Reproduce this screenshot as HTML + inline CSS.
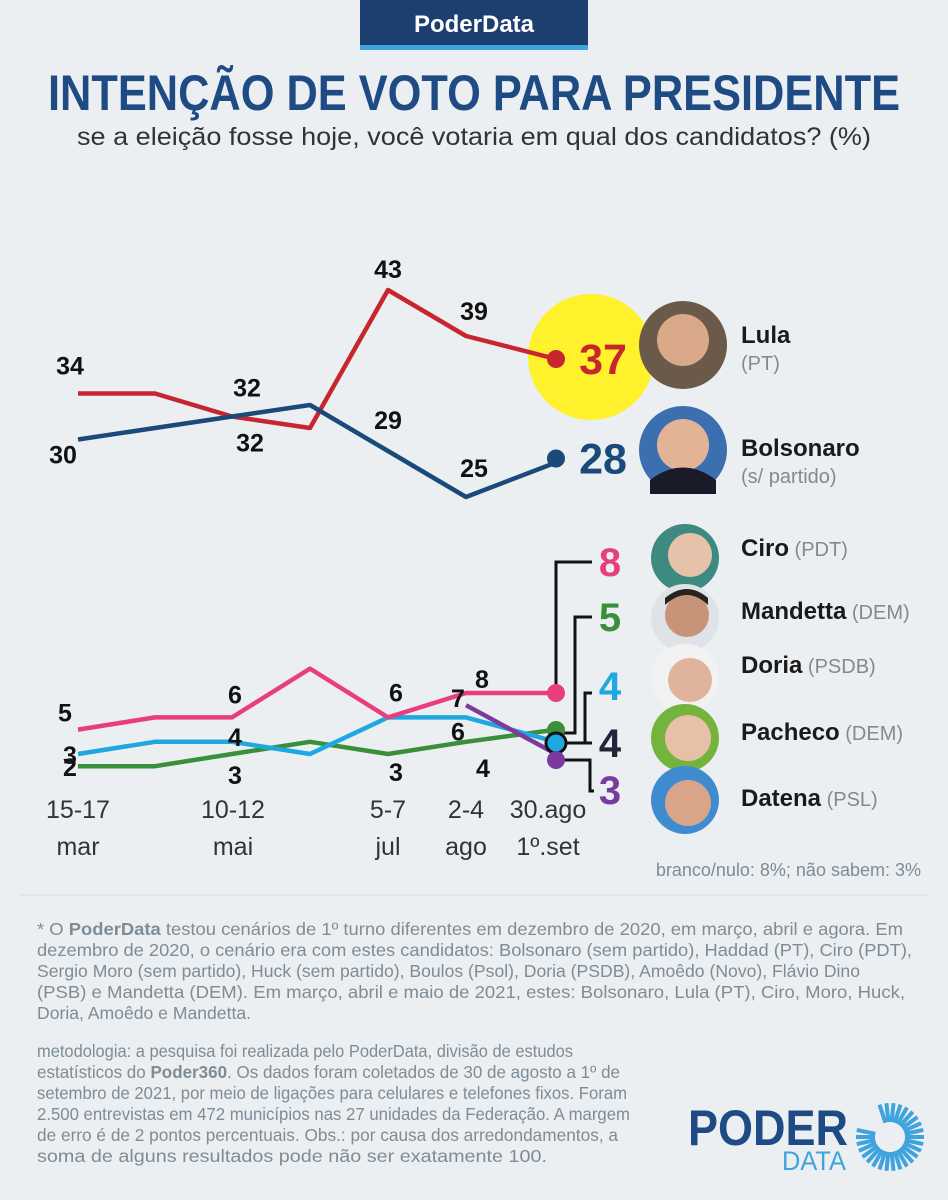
<!DOCTYPE html>
<html><head><meta charset="utf-8">
<style>
html,body{margin:0;padding:0;background:#eceff2;}
svg{display:block;font-family:"Liberation Sans",sans-serif;}
</style></head>
<body>
<svg id="chart" width="948" height="1200" viewBox="0 0 948 1200" xmlns="http://www.w3.org/2000/svg">
<rect width="948" height="1200" fill="#eceff2"/>
<g>
<rect x="360" y="0" width="228" height="46" fill="#1d3f70"/>
<rect x="360" y="45" width="228" height="5" fill="#3fa3de"/>
<text x="474" y="32" text-anchor="middle" font-size="24" font-weight="bold" fill="#fff">PoderData</text>
</g>
<text x="474" y="110" text-anchor="middle" font-size="50" font-weight="bold" fill="#1f4b85" textLength="852" lengthAdjust="spacingAndGlyphs">INTENÇÃO DE VOTO PARA PRESIDENTE</text>
<text x="474" y="145" text-anchor="middle" font-size="25" fill="#333" textLength="794" lengthAdjust="spacingAndGlyphs">se a eleição fosse hoje, você votaria em qual dos candidatos? (%)</text>

<circle cx="591" cy="357" r="63" fill="#fff22c"/>
<g id="topChart"></g>
<g id="bottomChart"></g>

<g font-size="25" fill="#333" text-anchor="middle">
<text x="78" y="818">15-17</text><text x="78" y="855">mar</text>
<text x="233" y="818">10-12</text><text x="233" y="855">mai</text>
<text x="388" y="818">5-7</text><text x="388" y="855">jul</text>
<text x="466" y="818">2-4</text><text x="466" y="855">ago</text>
<text x="548" y="818">30.ago</text><text x="548" y="855">1º.set</text>
</g>

<g>
<circle cx="683" cy="345" r="44" fill="#6b5a4a"/><circle cx="683" cy="340" r="26" fill="#d9a98a"/>
<circle cx="683" cy="450" r="44" fill="#3b6fb0"/><circle cx="683" cy="445" r="26" fill="#e2b394"/><path d="M650 480 Q683 455 716 480 L716 494 L650 494Z" fill="#1a1a2a"/>
<circle cx="685" cy="558" r="34" fill="#3d8a80"/><circle cx="690" cy="555" r="22" fill="#e6c2aa"/>
<circle cx="685" cy="618" r="34" fill="#dfe3e8"/><circle cx="687" cy="615" r="22" fill="#c89478"/><path d="M665 605 Q687 585 708 605 L708 598 Q687 580 665 598Z" fill="#2a2220"/>
<circle cx="685" cy="678" r="34" fill="#f2f2f2"/><circle cx="690" cy="680" r="22" fill="#e0b49a"/>
<circle cx="685" cy="738" r="34" fill="#74b43c"/><circle cx="688" cy="738" r="23" fill="#e8c0a8"/>
<circle cx="685" cy="800" r="34" fill="#3f8bd0"/><circle cx="688" cy="803" r="23" fill="#d9a588"/>
</g>
<g font-size="24" fill="#1a1a1a">
<text x="741" y="343" font-weight="bold">Lula</text>
<text x="741" y="370" font-size="20" fill="#888">(PT)</text>
<text x="741" y="456" font-weight="bold">Bolsonaro</text>
<text x="741" y="483" font-size="20" fill="#888">(s/ partido)</text>
<text x="741" y="556"><tspan font-weight="bold">Ciro</tspan><tspan font-size="20" fill="#888"> (PDT)</tspan></text>
<text x="741" y="619"><tspan font-weight="bold">Mandetta</tspan><tspan font-size="20" fill="#888"> (DEM)</tspan></text>
<text x="741" y="673"><tspan font-weight="bold">Doria</tspan><tspan font-size="20" fill="#888"> (PSDB)</tspan></text>
<text x="741" y="740"><tspan font-weight="bold">Pacheco</tspan><tspan font-size="20" fill="#888"> (DEM)</tspan></text>
<text x="741" y="806"><tspan font-weight="bold">Datena</tspan><tspan font-size="20" fill="#888"> (PSL)</tspan></text>
</g>
<text x="921" y="876" text-anchor="end" font-size="18" fill="#7d8c97">branco/nulo: 8%; não sabem: 3%</text>
<line x1="20" y1="895" x2="928" y2="895" stroke="#d4d9de" stroke-width="1"/>

<g font-size="17.5" fill="#7d8c97">
<text x="37" y="935" textLength="866" lengthAdjust="spacingAndGlyphs">* O <tspan font-weight="bold">PoderData</tspan> testou cenários de 1º turno diferentes em dezembro de 2020, em março, abril e agora. Em</text>
<text x="37" y="956" textLength="875" lengthAdjust="spacingAndGlyphs">dezembro de 2020, o cenário era com estes candidatos: Bolsonaro (sem partido), Haddad (PT), Ciro (PDT),</text>
<text x="37" y="977" textLength="823" lengthAdjust="spacingAndGlyphs">Sergio Moro (sem partido), Huck (sem partido), Boulos (Psol), Doria (PSDB), Amoêdo (Novo), Flávio Dino</text>
<text x="37" y="998" textLength="868" lengthAdjust="spacingAndGlyphs">(PSB) e Mandetta (DEM). Em março, abril e maio de 2021, estes: Bolsonaro, Lula (PT), Ciro, Moro, Huck,</text>
<text x="37" y="1019" textLength="214" lengthAdjust="spacingAndGlyphs">Doria, Amoêdo e Mandetta.</text>
<text x="37" y="1057" textLength="536" lengthAdjust="spacingAndGlyphs">metodologia: a pesquisa foi realizada pelo PoderData, divisão de estudos</text>
<text x="37" y="1078" textLength="583" lengthAdjust="spacingAndGlyphs">estatísticos do <tspan font-weight="bold">Poder360</tspan>. Os dados foram coletados de 30 de agosto a 1º de</text>
<text x="37" y="1099" textLength="590" lengthAdjust="spacingAndGlyphs">setembro de 2021, por meio de ligações para celulares e telefones fixos. Foram</text>
<text x="37" y="1120" textLength="593" lengthAdjust="spacingAndGlyphs">2.500 entrevistas em 472 municípios nas 27 unidades da Federação. A margem</text>
<text x="37" y="1141" textLength="581" lengthAdjust="spacingAndGlyphs">de erro é de 2 pontos percentuais. Obs.: por causa dos arredondamentos, a</text>
<text x="37" y="1162" textLength="510" lengthAdjust="spacingAndGlyphs">soma de alguns resultados pode não ser exatamente 100.</text>
</g>
<g>
<text x="688" y="1145" font-size="50" font-weight="bold" fill="#1f4b85" textLength="160" lengthAdjust="spacingAndGlyphs">PODER</text>
<text x="782" y="1170" font-size="27" fill="#3fa3de" textLength="64" lengthAdjust="spacingAndGlyphs">DATA</text>
<g id="sun" stroke="#3fa3de" stroke-width="4"></g>
</g>
</svg>
<script>
const NS='http://www.w3.org/2000/svg';
const xPos=[78,155,232,310,388,466,556];
// top chart data
const lulaValues=[34,34,32,31,43,39,37];
const bolsoValues=[30,31,32,33,29,25,28];
const lulaLabels=['34','','32','','43','39'];
const bolsoLabels=['30','','32','','29','25'];
// bottom chart data
const ciroValues=[5,6,6,10,6,8,8];
const doriaValues=[3,4,4,3,6,6,4];
const mandettaValues=[2,2,3,4,3,4,5];
const datenaValues=[null,null,null,null,null,7,3];
const pachecoValues=[null,null,null,null,null,null,4];
function yTop(v){return 290+(43-v)*11.5;}
function yBot(v){return 693+(8-v)*12.2;}
function mk(tag,attrs,parent){const e=document.createElementNS(NS,tag);for(const k in attrs)e.setAttribute(k,attrs[k]);parent.appendChild(e);return e;}
function drawLine(vals,yf,color,parent,name){
  let d='';vals.forEach((v,i)=>{if(v==null)return;d+=(d?'L':'M')+xPos[i]+' '+yf(v)+' ';});
  const p=mk('path',{d:d,fill:'none',stroke:color,'stroke-width':4.5,'stroke-linejoin':'round'},parent);
  
  
}
function label(x,y,t,parent,size,color){const e=mk('text',{x:x,y:y,'text-anchor':'middle','font-size':size||25,'font-weight':'bold',fill:color||'#111'},parent);e.textContent=t;
  
  
  return e;}
const topG=document.getElementById('topChart');
drawLine(lulaValues,yTop,'#c8262f',topG,'lula-line');
drawLine(bolsoValues,yTop,'#1a4a7a',topG,'bolsonaro-line');
label(xPos[0]-8,yTop(lulaValues[0])-19,lulaLabels[0],topG);
label(xPos[2]+15,yTop(lulaValues[2])-20,lulaLabels[2],topG);
label(xPos[4],yTop(lulaValues[4])-12,lulaLabels[4],topG);
label(xPos[5]+8,yTop(lulaValues[5])-16,lulaLabels[5],topG);
label(xPos[0]-15,yTop(bolsoValues[0])+24,bolsoLabels[0],topG);
label(xPos[2]+18,yTop(bolsoValues[2])+35,bolsoLabels[2],topG);
label(xPos[4],yTop(bolsoValues[4])-22,bolsoLabels[4],topG);
label(xPos[5]+8,yTop(bolsoValues[5])-20,bolsoLabels[5],topG);
let c=mk('circle',{cx:xPos[6],cy:yTop(lulaValues[6]),r:9,fill:'#c8262f'},topG);


c=mk('circle',{cx:xPos[6],cy:yTop(bolsoValues[6])-4,r:9,fill:'#1a4a7a'},topG);


label(xPos[6]+47,yTop(lulaValues[6])+15,String(lulaValues[6]),topG,43,'#c8262f');
label(xPos[6]+47,yTop(bolsoValues[6])+11,String(bolsoValues[6]),topG,43,'#1a4a7a');

const botG=document.getElementById('bottomChart');
drawLine(mandettaValues,yBot,'#3a8f3a',botG,'mandetta-line');
drawLine(doriaValues,yBot,'#1fa8e0',botG,'doria-line');
drawLine(ciroValues,yBot,'#e83e7e',botG,'ciro-line');
drawLine(datenaValues,yBot,'#7b3b9e',botG,'datena-line');
label(65,yBot(ciroValues[0])-8,String(ciroValues[0]),botG);
label(70,yBot(doriaValues[0])+10,String(doriaValues[0]),botG);
label(70,yBot(mandettaValues[0])+10,String(mandettaValues[0]),botG);
label(235,yBot(ciroValues[2])-14,String(ciroValues[2]),botG);
label(235,yBot(doriaValues[2])+4,String(doriaValues[2]),botG);
label(235,yBot(mandettaValues[2])+30,String(mandettaValues[2]),botG);
label(396,yBot(ciroValues[4])-16,String(ciroValues[4]),botG);
label(396,yBot(mandettaValues[4])+27,String(mandettaValues[4]),botG);
label(458,yBot(datenaValues[5])+2,String(datenaValues[5]),botG);
label(482,yBot(ciroValues[5])-5,String(ciroValues[5]),botG);
label(458,yBot(doriaValues[5])+23,String(doriaValues[5]),botG);
label(483,yBot(mandettaValues[5])+35,String(mandettaValues[5]),botG);
const ends=[
 {v:ciroValues[6],col:'#e83e7e',ly:562,name:'ciro'},
 {v:mandettaValues[6],col:'#3a8f3a',ly:617,name:'mandetta'},
 {v:doriaValues[6],col:'#1fa8e0',ly:686,name:'doria'},
 {v:pachecoValues[6],col:'#22263a',ly:743,name:'pacheco'},
 {v:datenaValues[6],col:'#7b3b9e',ly:790,name:'datena'}];
const lab=mk('g',{stroke:'#111','stroke-width':3,fill:'none'},botG);
mk('path',{d:'M556 '+(yBot(ciroValues[6])-8)+' V562 H592'},lab);
mk('path',{d:'M562 733 H575 V617 H592'},lab);
mk('path',{d:'M566 743 H585 V693 H592'},lab);
mk('path',{d:'M566 743 H592'},lab);
mk('path',{d:'M562 760 H590 V791 H594'},lab);
const dotY=[yBot(ciroValues[6]),730,743,743,760];
ends.forEach((e,i)=>{
  if(e.name==='pacheco'){const r=mk('circle',{cx:556,cy:743,r:10,fill:'#1fa8e0',stroke:'#111','stroke-width':3},botG);
    
    }
  else if(e.name!=='doria'){const r=mk('circle',{cx:556,cy:dotY[i],r:9,fill:e.col},botG);
    
    }
  label(610,e.ly+14,String(e.v),botG,40,e.col);
});
const sun=document.getElementById('sun');
for(let a=0;a<360;a+=12){if(a>200&&a<250)continue;const r=a*Math.PI/180;const cx=890,cy=1137;
  mk('line',{x1:cx+15*Math.cos(r),y1:cy+15*Math.sin(r),x2:cx+34*Math.cos(r),y2:cy+34*Math.sin(r)},sun);}
</script>
</body></html>
